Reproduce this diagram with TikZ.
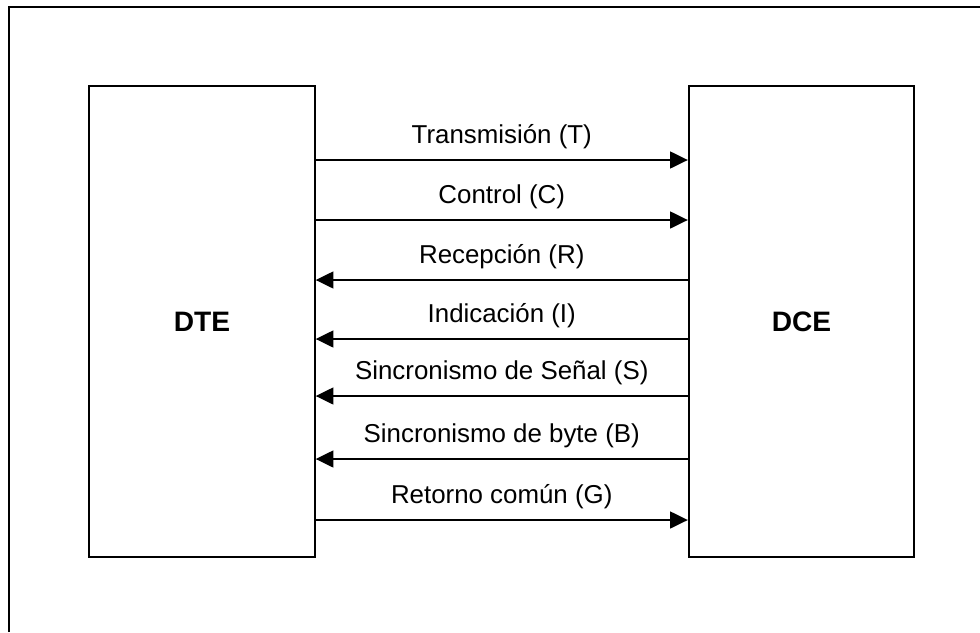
\documentclass[tikz,border=0pt]{standalone}
\usepackage{fontspec}
\setmainfont{Liberation Sans}
\usetikzlibrary{arrows.meta}

\tikzset{
  unit/.style={draw, line width=1.5pt, minimum width=5.63cm, minimum height=11.78cm,
    font=\fontsize{20}{24}\selectfont\bfseries},
  sig/.style={line width=1.2pt, -{Triangle[length=0.44cm,width=0.42cm]}},
  lbl/.style={anchor=base, yshift=0.42cm, inner sep=0pt, font=\fontsize{18.4}{22}\selectfont}
}

\begin{document}
\begin{tikzpicture}[x=0.025cm, y=-0.025cm]
  \useasboundingbox (0,0) rectangle (980,632);
  % frame
  \draw[line width=1.7pt] (9,632) -- (9,7) -- (980,7);
  % both ends of the interface
  \node[unit] (dte) at (202,321.5) {DTE};
  \node[unit] (dce) at (801.5,321.5) {DCE};
  % circuits
  \foreach \yy/\from/\to/\txt in {
      160/dte.east/dce.west/Transmisión (T),
      220/dte.east/dce.west/Control (C),
      280/dce.west/dte.east/Recepción (R),
      339/dce.west/dte.east/Indicación (I),
      396/dce.west/dte.east/Sincronismo de Señal (S),
      459/dce.west/dte.east/Sincronismo de byte (B),
      520/dte.east/dce.west/Retorno común (G)}
    \draw[sig] (\from |- 0,\yy) -- (\to |- 0,\yy)
      node[lbl, midway] {\txt};
\end{tikzpicture}
\end{document}
